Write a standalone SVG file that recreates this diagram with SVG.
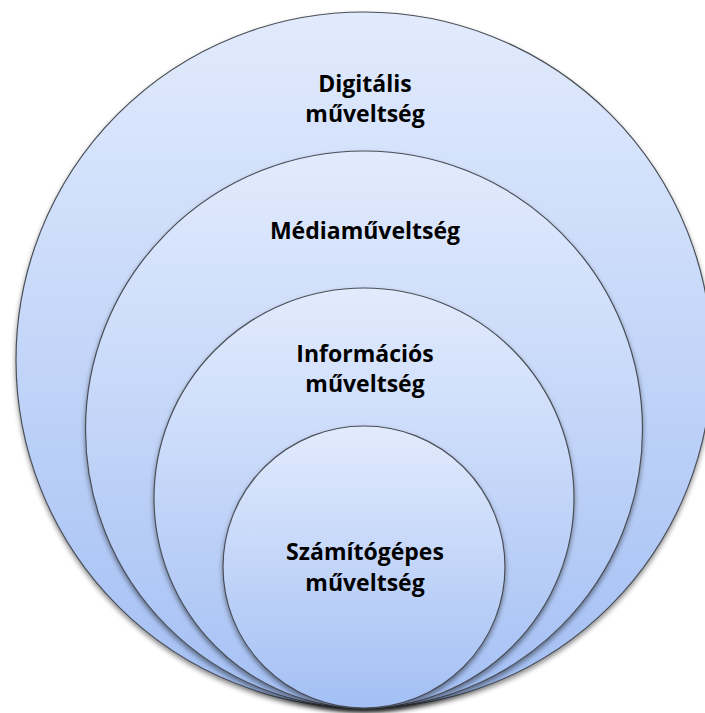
<svg xmlns="http://www.w3.org/2000/svg" width="705" height="713" viewBox="0 0 705 713">
  <style>
    .ring { stroke: #4a4f58; stroke-width: 1.2; fill: url(#g); filter: url(#sh); }
    .lbl { font-family: "Open Sans", "Liberation Sans", sans-serif; font-weight: 700; font-size: 23px; fill: #000; text-anchor: middle; }
  </style>
  <defs>
    <linearGradient id="g" x1="0" y1="0" x2="0" y2="1">
      <stop offset="0" stop-color="#e2ebfd"/>
      <stop offset="1" stop-color="#a3bff4"/>
    </linearGradient>
    <filter id="sh" x="-10%" y="-10%" width="120%" height="120%">
      <feDropShadow dx="0" dy="3" stdDeviation="2.5" flood-color="#000" flood-opacity="0.45"/>
    </filter>
  </defs>
  <rect width="705" height="713" fill="#fff"/>
  <g id="digitalis">
    <circle class="ring" cx="364" cy="360" r="348"/>
    <text class="lbl" x="365" y="92">Digitális</text>
    <text class="lbl" x="365" y="122">műveltség</text>
  </g>
  <g id="media">
    <circle class="ring" cx="364" cy="429.5" r="278.5"/>
    <text class="lbl" x="365" y="239">Médiaműveltség</text>
  </g>
  <g id="informacios">
    <circle class="ring" cx="364" cy="498" r="210"/>
    <text class="lbl" x="365" y="362">Információs</text>
    <text class="lbl" x="365" y="392">műveltség</text>
  </g>
  <g id="szamitogepes">
    <circle class="ring" cx="364" cy="567" r="141"/>
    <text class="lbl" x="365" y="560">Számítógépes</text>
    <text class="lbl" x="365" y="591">műveltség</text>
  </g>
  <g id="connectors"/>
</svg>
